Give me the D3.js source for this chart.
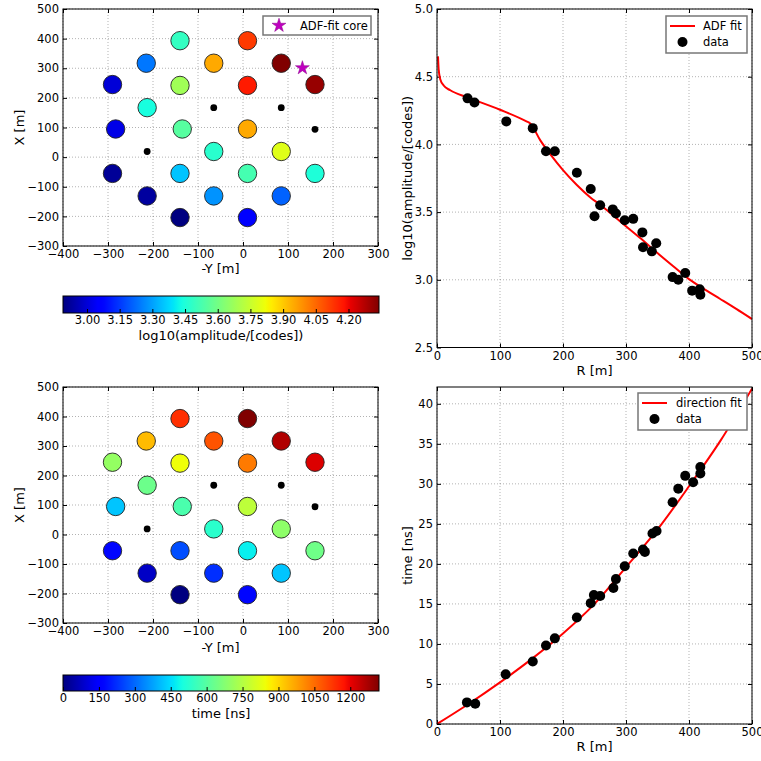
<!DOCTYPE html>
<html>
<head>
<meta charset="utf-8">
<script src="https://cdn.jsdelivr.net/npm/d3@7"></script>
<style>
  body { margin: 0; background: #fff; }
  text { font-family: "DejaVu Sans", sans-serif; fill: #000; }
  .axis path { display: none; }
  .axis line { stroke: #000; }
  .axis text { font-size: 11.5px; }
  .grid line { stroke: #000; stroke-opacity: 0.3; stroke-dasharray: 1,2; }
  .labels { font-size: 13px; }
  .legend-text { font-size: 11.5px; }
</style>
</head>
<body>
<svg id="chart" width="761" height="761"></svg>
<script>
/* station positions on the ground: -Y and X in metres */
const stationNegY = [-140, 10, -215, -65, 85, -290, -140, 10, 160, -213, -283, -135, 10, -65, 85, -290, -140, 10, 160, -213, -65, 85, -140, 10];
const stationX    = [393, 393, 317, 317, 317, 245, 242, 242, 245, 167, 95, 95, 95, 19, 19, -55, -55, -55, -55, -131, -131, -131, -204, -204];
const stationAmp  = [3.49, 4.12, 3.24, 3.95, 4.34, 3.00, 3.68, 4.17, 4.31, 3.44, 3.02, 3.55, 3.95, 3.47, 3.79, 2.92, 3.35, 3.52, 3.45, 2.93, 3.28, 3.21, 2.89, 3.05];
const stationTime = [1135, 1320, 940, 1085, 1265, 700, 845, 1030, 1215, 635, 420, 580, 765, 530, 690, 170, 265, 475, 640, 80, 225, 420, 0, 170];

/* stations without a signal (small black dots) */
const emptyNegY = [-65, 85, 160, -213];
const emptyX    = [167, 167, 94, 19];

/* fitted core position */
const coreNegY = 132;
const coreX = 301;

/* lateral amplitude profile */
const profileR   = [48.5, 59.5, 110, 152, 173, 187, 222, 244, 250, 259, 279, 284, 298, 311.5, 326, 327, 341, 348, 374, 383, 394, 405, 417, 418];
const profileAmp = [4.34, 4.31, 4.17, 4.12, 3.95, 3.95, 3.79, 3.67, 3.47, 3.55, 3.52, 3.49, 3.44, 3.45, 3.35, 3.24, 3.21, 3.27, 3.02, 3.00, 3.05, 2.92, 2.93, 2.89];

/* ADF fit curve */
const adfR   = [1.6, 2.6, 5.3, 10.6, 21, 48.5, 100, 142, 148, 164, 180, 200, 222, 243, 259, 296, 322, 348, 375, 400, 428, 449, 475, 500];
const adfAmp = [4.65, 4.555, 4.48, 4.435, 4.40, 4.347, 4.256, 4.17, 4.155, 4.03, 3.926, 3.81, 3.70, 3.61, 3.554, 3.41, 3.31, 3.205, 3.10, 3.005, 2.92, 2.86, 2.785, 2.71];

/* arrival times vs distance */
const timingR = [47.5, 60.7, 109, 152, 173, 187, 222, 244, 249, 259, 280, 284, 298, 311.5, 327, 330, 342, 348.5, 374, 383, 394, 406.5, 418, 418];
const timingT = [2.7, 2.54, 6.2, 7.8, 9.8, 10.7, 13.3, 15.1, 16.1, 16.0, 17.0, 18.1, 19.7, 21.3, 21.8, 21.5, 23.8, 24.1, 27.7, 29.4, 31.0, 30.2, 31.3, 32.1];

/* direction fit curve */
const dirR = [0, 50, 100, 150, 200, 250, 300, 350, 400, 450, 500];
const dirT = [0, 2.5, 5.2, 8.1, 11.3, 15.0, 19.6, 24.3, 29.7, 35.4, 41.9];

/* tick values */
const groundXTicks = [-400, -300, -200, -100, 0, 100, 200, 300];
const groundYTicks = [-300, -200, -100, 0, 100, 200, 300, 400, 500];
const rTicks = [0, 100, 200, 300, 400, 500];
const ampTicks = [2.5, 3.0, 3.5, 4.0, 4.5, 5.0];
const timeTicks = [0, 5, 10, 15, 20, 25, 30, 35, 40];
const ampBarTicks = [3.00, 3.15, 3.30, 3.45, 3.60, 3.75, 3.90, 4.05, 4.20];
const timeBarTicks = [0, 150, 300, 450, 600, 750, 900, 1050, 1200];

const svg = d3.select("#chart");

/* jet colormap built from matplotlib's segment data */
const jetR = d3.scaleLinear().domain([0, 0.35, 0.66, 0.89, 1]).range([0, 0, 1, 1, 0.5]).clamp(true);
const jetG = d3.scaleLinear().domain([0, 0.125, 0.375, 0.64, 0.91, 1]).range([0, 0, 1, 1, 0, 0]).clamp(true);
const jetB = d3.scaleLinear().domain([0, 0.11, 0.34, 0.65, 1]).range([0.5, 1, 1, 0, 0]).clamp(true);
const jet = t => d3.rgb(255 * jetR(t), 255 * jetG(t), 255 * jetB(t)).formatHex();

/* draw grid, ticks on all sides, tick labels */
function drawFrame(x, y, xTicks, yTicks, xFmt, yFmt) {
  const [x0, x1] = x.range();
  const [y1, y0] = y.range();
  const g = svg.append("g");

  g.append("g").attr("class", "grid")
    .selectAll("line").data(xTicks).enter().append("line")
    .attr("x1", d => x(d)).attr("x2", d => x(d)).attr("y1", y0).attr("y2", y1);
  g.append("g").attr("class", "grid")
    .selectAll("line").data(yTicks).enter().append("line")
    .attr("y1", d => y(d)).attr("y2", d => y(d)).attr("x1", x0).attr("x2", x1);

  g.append("g").attr("class", "axis")
    .attr("transform", `translate(0,${y1})`)
    .call(d3.axisBottom(x).tickValues(xTicks).tickFormat(xFmt).tickSizeInner(-4).tickSizeOuter(0).tickPadding(4));
  g.append("g").attr("class", "axis")
    .attr("transform", `translate(${x0},0)`)
    .call(d3.axisLeft(y).tickValues(yTicks).tickFormat(yFmt).tickSizeInner(-4).tickSizeOuter(0).tickPadding(4));
  g.append("g").attr("class", "axis")
    .attr("transform", `translate(0,${y0})`)
    .call(d3.axisTop(x).tickValues(xTicks).tickFormat("").tickSizeInner(-4).tickSizeOuter(0));
  g.append("g").attr("class", "axis")
    .attr("transform", `translate(${x1},0)`)
    .call(d3.axisRight(y).tickValues(yTicks).tickFormat("").tickSizeInner(-4).tickSizeOuter(0));

  return g;
}

/* black frame around an axes area */
function frameBox(x, y) {
  const [x0, x1] = x.range();
  const [y1, y0] = y.range();
  svg.append("rect")
    .attr("x", x0).attr("y", y0)
    .attr("width", x1 - x0).attr("height", y1 - y0)
    .attr("fill", "none").attr("stroke", "#000").attr("stroke-width", 1);
}

/* horizontal colorbar under a map panel */
function colorbar(id, top, bottom, scale, ticks, fmt, label, labelY) {
  const [x0, x1] = scale.range();
  const grad = svg.append("defs").append("linearGradient")
    .attr("id", id).attr("x1", "0%").attr("x2", "100%").attr("y1", "0%").attr("y2", "0%");
  grad.selectAll("stop").data(d3.range(0, 1.0001, 0.01)).enter().append("stop")
    .attr("offset", d => (d * 100) + "%")
    .attr("stop-color", d => jet(d));
  svg.append("rect")
    .attr("x", x0).attr("y", top)
    .attr("width", x1 - x0).attr("height", bottom - top)
    .attr("fill", `url(#${id})`).attr("stroke", "#000").attr("stroke-width", 1);
  svg.append("g").attr("class", "axis")
    .attr("transform", `translate(0,${bottom})`)
    .call(d3.axisBottom(scale).tickValues(ticks).tickFormat(fmt).tickSizeInner(-4).tickSizeOuter(0).tickPadding(3));
  svg.append("text").attr("class", "labels")
    .attr("x", (x0 + x1) / 2).attr("y", labelY)
    .attr("text-anchor", "middle").text(label);
}

/* one ground map of the stations, coloured by a value */
function drawMap(top, bottom, values, barId, barTop, barBottom, barTicks, barFmt, barLabel, barLabelY, xLabelY, withCore) {
  const x = d3.scaleLinear().domain([-400, 300]).range([63, 378]);
  const y = d3.scaleLinear().domain([-300, 500]).range([bottom, top]);
  drawFrame(x, y, groundXTicks, groundYTicks, d3.format("d"), d3.format("d"));

  const vScale = d3.scaleLinear().domain(d3.extent(values)).range([0, 1]);

  svg.append("g").selectAll("circle")
    .data(stationNegY).enter().append("circle")
    .attr("cx", d => x(d))
    .attr("cy", (_, i) => y(stationX[i]))
    .attr("r", 9.2)
    .style("fill", (_, i) => jet(vScale(values[i])))
    .style("stroke", "#222")
    .style("stroke-width", 0.9);

  svg.append("g").selectAll("circle")
    .data(emptyNegY).enter().append("circle")
    .attr("cx", d => x(d))
    .attr("cy", (_, i) => y(emptyX[i]))
    .attr("r", 3.4)
    .style("fill", "#000");

  if (withCore) {
    svg.append("path")
      .attr("d", d3.symbol(d3.symbolStar, 60)())
      .attr("transform", `translate(${x(coreNegY)},${y(coreX)})`)
      .style("fill", "#bf00bf").style("stroke", "#8a008a").style("stroke-width", 0.5);

    /* legend for the core */
    const legend = svg.append("g").attr("transform", "translate(263,16)");
    legend.append("rect").attr("width", 108).attr("height", 19)
      .attr("fill", "#fff").attr("stroke", "#777").attr("stroke-width", 1.5);
    legend.append("path")
      .attr("d", d3.symbol(d3.symbolStar, 60)())
      .attr("transform", "translate(16,9.5)")
      .style("fill", "#bf00bf").style("stroke", "#8a008a").style("stroke-width", 0.5);
    legend.append("text").attr("class", "legend-text")
      .attr("x", 37).attr("y", 13.5).text("ADF-fit core");
  }

  frameBox(x, y);

  svg.append("text").attr("class", "labels")
    .attr("x", 220.5).attr("y", xLabelY)
    .attr("text-anchor", "middle").text("-Y [m]");
  svg.append("text").attr("class", "labels")
    .attr("transform", `translate(24,${(top + bottom) / 2}) rotate(-90)`)
    .attr("text-anchor", "middle").text("X [m]");

  const barScale = d3.scaleLinear().domain(d3.extent(values)).range([63, 379]);
  colorbar(barId, barTop, barBottom, barScale, barTicks, barFmt, barLabel, barLabelY);
}

/* one profile panel: fit line plus data points */
function drawProfile(top, bottom, yDomain, yTicks, yFmt, yLabel, fitR, fitV, dataR, dataV, fitName, legendBox, clipId) {
  const x = d3.scaleLinear().domain([0, 500]).range([437, 752]);
  const y = d3.scaleLinear().domain(yDomain).range([bottom, top]);
  drawFrame(x, y, rTicks, yTicks, d3.format("d"), yFmt);

  svg.append("clipPath").attr("id", clipId).append("rect")
    .attr("x", 437).attr("y", top).attr("width", 315).attr("height", bottom - top);

  const line = d3.line()
    .x((d, i) => x(fitR[i]))
    .y(d => y(d))
    .curve(d3.curveMonotoneX);

  svg.append("path")
    .datum(fitV)
    .attr("clip-path", `url(#${clipId})`)
    .attr("d", line)
    .attr("fill", "none").attr("stroke", "#ff0000").attr("stroke-width", 2);

  svg.append("g").selectAll("circle")
    .data(dataR).enter().append("circle")
    .attr("cx", d => x(d))
    .attr("cy", (_, i) => y(dataV[i]))
    .attr("r", 5)
    .style("fill", "#000");

  frameBox(x, y);

  /* legend */
  const lg = svg.append("g").attr("transform", `translate(${legendBox.x},${legendBox.y})`);
  lg.append("rect").attr("width", legendBox.w).attr("height", 37)
    .attr("fill", "#fff").attr("stroke", "#777").attr("stroke-width", 1.5);
  lg.append("line").attr("x1", 4).attr("x2", 29).attr("y1", 10).attr("y2", 10)
    .attr("stroke", "#ff0000").attr("stroke-width", 2);
  lg.append("text").attr("class", "legend-text").attr("x", legendBox.tx).attr("y", 14).text(fitName);
  lg.append("circle").attr("cx", 16.5).attr("cy", 26).attr("r", 5).style("fill", "#000");
  lg.append("text").attr("class", "legend-text").attr("x", legendBox.tx).attr("y", 30).text("data");

  svg.append("text").attr("class", "labels")
    .attr("x", 594.5).attr("y", bottom + 27)
    .attr("text-anchor", "middle").text("R [m]");
  svg.append("text").attr("class", "labels")
    .attr("transform", `translate(412,${(top + bottom) / 2}) rotate(-90)`)
    .attr("text-anchor", "middle").text(yLabel);
}

drawMap(9, 246, stationAmp, "ampbar", 296, 313, ampBarTicks, d3.format(".2f"),
  "log10(amplitude/[codes])", 340, 273, true);
drawMap(387, 623, stationTime, "timebar", 675, 691, timeBarTicks, d3.format("d"),
  "time [ns]", 718, 652, false);

drawProfile(9, 347.5, [2.5, 5.0], ampTicks, d3.format(".1f"), "log10(amplitude/[codes])",
  adfR, adfAmp, profileR, profileAmp, "ADF fit", {x: 666, y: 16, w: 81, tx: 37}, "clipTop");
drawProfile(387, 724, [0, 42.1], timeTicks, d3.format("d"), "time [ns]",
  dirR, dirT, timingR, timingT, "direction fit", {x: 638, y: 393, w: 109, tx: 38}, "clipBottom");
</script>
</body>
</html>
